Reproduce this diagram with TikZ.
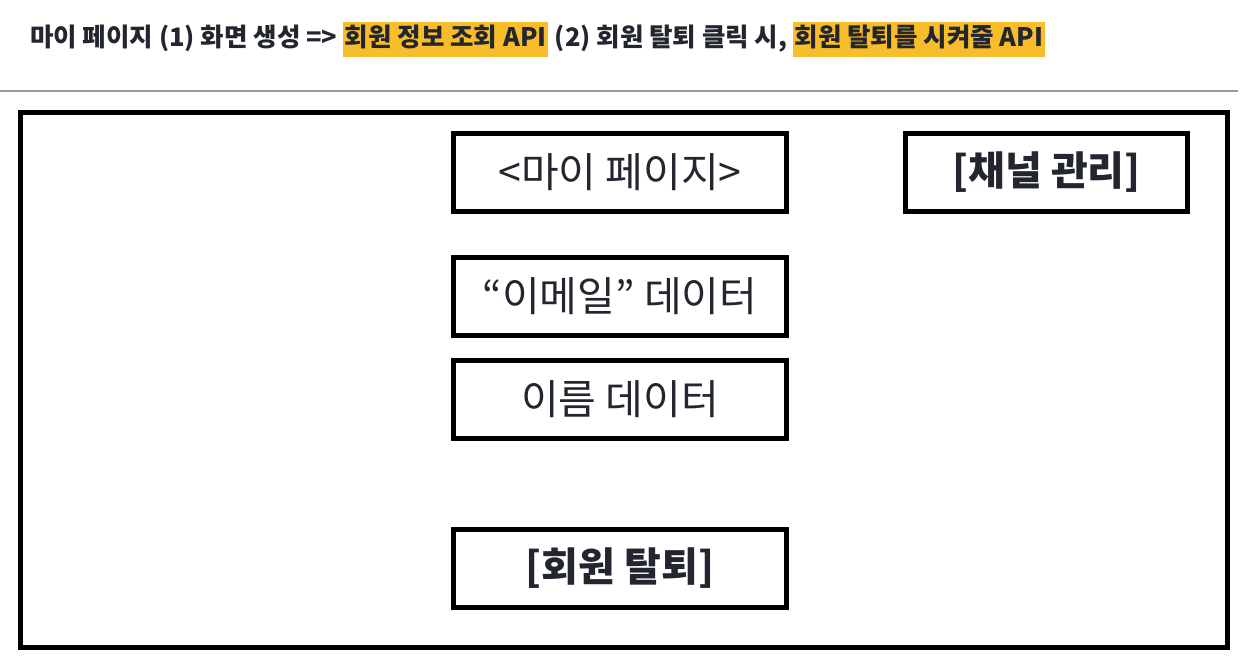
\documentclass[tikz,border=0pt]{standalone}
\usepackage{fontspec}
\setmainfont{Noto Sans CJK KR}
\newfontfamily\kr{Noto Sans CJK KR}
\definecolor{ink}{HTML}{23262E}
\definecolor{hl}{HTML}{F8BD2A}
\definecolor{rulegray}{HTML}{9A9A9A}
\tikzset{
  hdr/.style={inner sep=0pt, anchor=west, text=ink, font=\kr\fontsize{25.5bp}{30bp}\selectfont\bfseries, text height=20bp, text depth=6bp},
  hlt/.style={hdr, fill=hl, inner xsep=2bp, inner ysep=4.5bp},
  screenbox/.style={draw=black, line width=5bp, minimum width=333bp, minimum height=78bp, inner sep=0pt, text=ink, font=\kr\fontsize{41bp}{46bp}\selectfont},
  boldbox/.style={screenbox, font=\kr\fontsize{40bp}{46bp}\selectfont\bfseries},
}
\begin{document}
\begin{tikzpicture}[x=1bp,y=-1bp]
\useasboundingbox (0,0) rectangle (1243,658);
% header
\node[hdr] (h1) at (30,40) {마이 페이지 (1) 화면 생성 =>};
\node[hlt] (h2) at ([xshift=5bp]h1.east) {회원 정보 조회 API};
\node[hdr] (h3) at ([xshift=6bp]h2.east) {(2) 회원 탈퇴 클릭 시,};
\node[hlt] (h4) at ([xshift=5bp]h3.east) {회원 탈퇴를 시켜줄 API};
% rule
\coordinate (rl) at (0,91);
\coordinate (rr) at (1238,91);
\draw[rulegray, line width=2bp] (rl) -- (rr);
% frame
\node[draw=black, line width=5bp, minimum width=1207bp, minimum height=535bp, inner sep=0pt] (frame) at (624,380) {};
% boxes
\node[screenbox] (mypage) at (620,172.5) {<마이 페이지>};
\node[boldbox, minimum width=282bp] (channel) at (1046.5,172.5) {[채널 관리]};
\node[screenbox] (email) at (620,296.5) {“이메일” 데이터};
\node[screenbox] (name) at (620,399.5) {이름 데이터};
\node[boldbox] (withdraw) at (620,568.5) {[회원 탈퇴]};
\end{tikzpicture}
\end{document}
